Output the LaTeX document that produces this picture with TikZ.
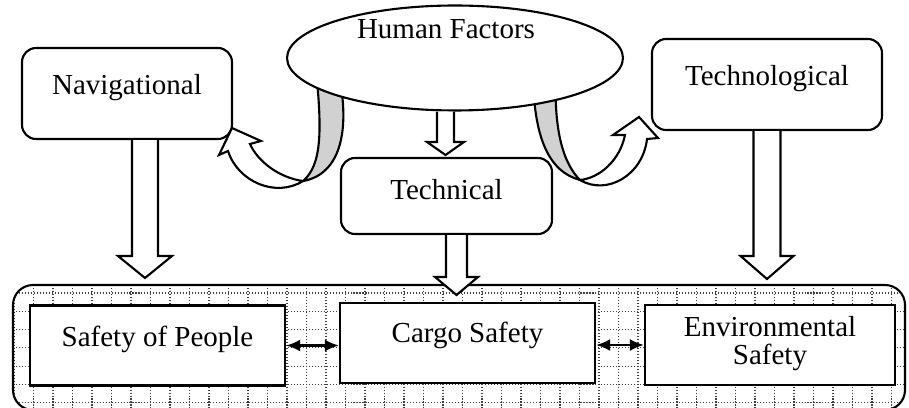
\documentclass[tikz,border=0pt]{standalone}
\usepackage{fontspec}
\setmainfont{Liberation Serif}
\usetikzlibrary{shapes.geometric,arrows.meta,calc}

\tikzset{
  roundbox/.style={draw, line width=1.2pt, rounded corners=0.28cm, fill=white},
  safebox/.style={draw, line width=1.3pt, fill=white, minimum width=5.1cm, minimum height=1.6cm},
  boxtext/.style={font=\fontsize{16.5}{16}\selectfont, yshift=0.12cm},
  blockarrow/.style={draw, fill=white, line width=1.2pt, line join=miter},
  curlarrow/.style={draw, fill=white, line width=1.2pt, line join=miter},
  curlband/.style={draw, fill=black!18, line width=1.2pt},
  gridline/.style={black!75, line width=0.6pt, dash pattern=on 0.6pt off 1.1pt},
  twoway/.style={{Latex[length=0.28cm,width=0.24cm]}-{Latex[length=0.28cm,width=0.24cm]}, line width=1.2pt},
}

% hollow block arrow pointing down: start, tip, half shaft, half head, head length
\newcommand{\downblock}[5]{%
  \draw[blockarrow] let \p1=#1, \p2=#2 in
    (\x2-#3,\y1) -- (\x2-#3,\y2+#5) -- (\x2-#4,\y2+#5) -- (\x2,\y2)
    -- (\x2+#4,\y2+#5) -- (\x2+#3,\y2+#5) -- (\x2+#3,\y1);
}

\begin{document}
\begin{tikzpicture}[x=0.02cm, y=-0.02cm]
  \useasboundingbox (0,0) rectangle (909,408);

  % dotted grid area
  \begin{scope}
    \clip[rounded corners=0.4cm] (13,285) rectangle (905,410);
    \foreach \gx in {0,...,45} \draw[gridline] (14+19.5*\gx,285) -- (14+19.5*\gx,410);
    \foreach \gy in {0,...,6} \draw[gridline] (13,293+18.3*\gy) -- (905,293+18.3*\gy);
  \end{scope}
  \draw[line width=1.2pt, rounded corners=0.4cm] (13,285) rectangle (905,410);

  % boxes
  \node[roundbox, minimum width=4.2cm, minimum height=1.82cm, label={[boxtext]center:Navigational}] (nav) at (127,93.5) {};
  \node[roundbox, minimum width=4.6cm, minimum height=1.82cm, label={[boxtext]center:Technological}] (techno) at (767,84.5) {};
  \node[roundbox, minimum width=4.22cm, minimum height=1.52cm, label={[boxtext]center:Technical}] (techn) at (446.5,196) {};

  \node[safebox, label={[boxtext]center:Safety of People}] (people) at (157.5,345.5) {};
  \node[safebox, label={[boxtext, yshift=0.04cm]center:Cargo Safety}] (cargo) at (467.5,343) {};
  \node[safebox, minimum width=5cm, label={[boxtext, yshift=-0.1cm, align=center]center:Environmental\\Safety}] (env) at (770,345) {};

  % curled arrows
  \draw[curlband] (316,70) .. controls (322,130) and (322,165) .. (303,181)
    .. controls (338,175) and (352,135) .. (338,70) -- cycle;
  \draw[curlarrow] (303,181) .. controls (276,198) and (238,182) .. (228,151) -- (219,155) -- (232,128)
    -- (261,141) -- (250,144) .. controls (258,162) and (280,178) .. (303,181) -- cycle;
  \draw[curlband] (533,70) .. controls (533,140) and (550,172) .. (580,180)
    .. controls (565,165) and (553,135) .. (556,70) -- cycle;
  \draw[curlarrow] (580,180) .. controls (607,196) and (643,175) .. (647,139) -- (658,138) -- (639,117)
    -- (613,135) -- (625,135) .. controls (620,160) and (600,178) .. (580,180) -- cycle;

  \node[draw, ellipse, line width=1.2pt, fill=white, inner sep=0pt, minimum width=6.72cm, minimum height=2.1cm,
    label={[boxtext, yshift=0.46cm, xshift=-0.18cm]center:Human Factors}] (hf) at (455,58) {};

  % block arrows
  \coordinate (navtip) at (145,278);
  \downblock{(nav.south -| navtip)}{(navtip)}{0.26cm}{0.54cm}{0.44cm}
  \coordinate (technotip) at (767,279);
  \downblock{(techno.south -| technotip)}{(technotip)}{0.27cm}{0.53cm}{0.46cm}
  \coordinate (hftip) at (445.5,155);
  \downblock{(hf.south -| hftip)}{(hftip)}{0.17cm}{0.37cm}{0.26cm}
  \coordinate (techntip) at (456.5,295);
  \downblock{(techn.south -| techntip)}{(techntip)}{0.21cm}{0.43cm}{0.36cm}

  % links between the safety boxes
  \draw[twoway] (people.east) -- (people.east -| cargo.west);
  \draw[twoway] (cargo.east |- env.west) -- (env.west);
\end{tikzpicture}
\end{document}
